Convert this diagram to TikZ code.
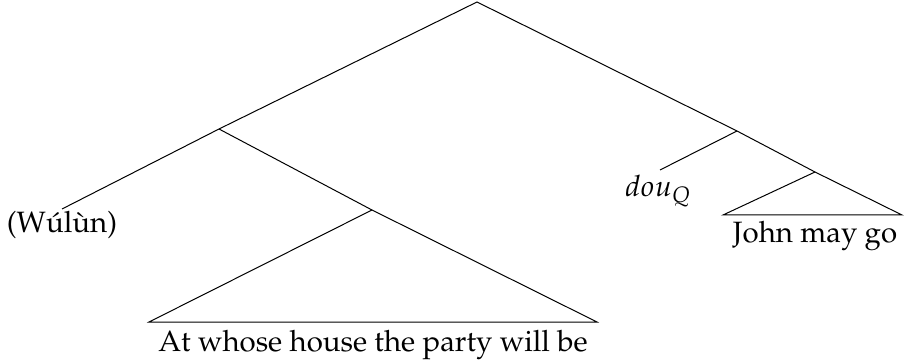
\documentclass[tikz,border=0pt]{standalone}
\usepackage[T1]{fontenc}
\usepackage{mathpazo}
\begin{document}
\begin{tikzpicture}[x=1pt,y=-1pt,
  lbl/.style={font=\fontsize{29.4}{34}\selectfont, anchor=base, inner sep=0pt},
  br/.style={line width=1pt, line join=miter}]
\useasboundingbox (0,0) rectangle (904,363);
% branching points
\coordinate (root) at (477,2);
\coordinate (xp) at (219,129);
\coordinate (cp) at (737,131);
\coordinate (tp) at (815,172);
\coordinate (ip) at (372,210);
\coordinate (wend) at (62,209);
\coordinate (dend) at (660,170);
\coordinate (ipl) at (149,322);
\coordinate (ipr) at (597,322);
\coordinate (tpl) at (723,215);
\coordinate (tpr) at (902,215);
% labels
\node[lbl] (wulun) at (62,233) {(Wúlùn)};
\node[lbl] (dou) at (658,197) {$dou_{Q}$};
\node[lbl] (john) at (815,243) {John may go};
\node[lbl] (party) at (373,351) {At whose house the party will be};
% branches
\draw[br] (wend) -- (xp) -- (root) -- (cp) -- (tp);
\draw[br] (xp) -- (ip);
\draw[br] (dend) -- (cp);
\draw[br] (ip) -- (ipl) -- (ipr) -- cycle;
\draw[br] (tp) -- (tpl) -- (tpr) -- cycle;
\end{tikzpicture}
\end{document}
